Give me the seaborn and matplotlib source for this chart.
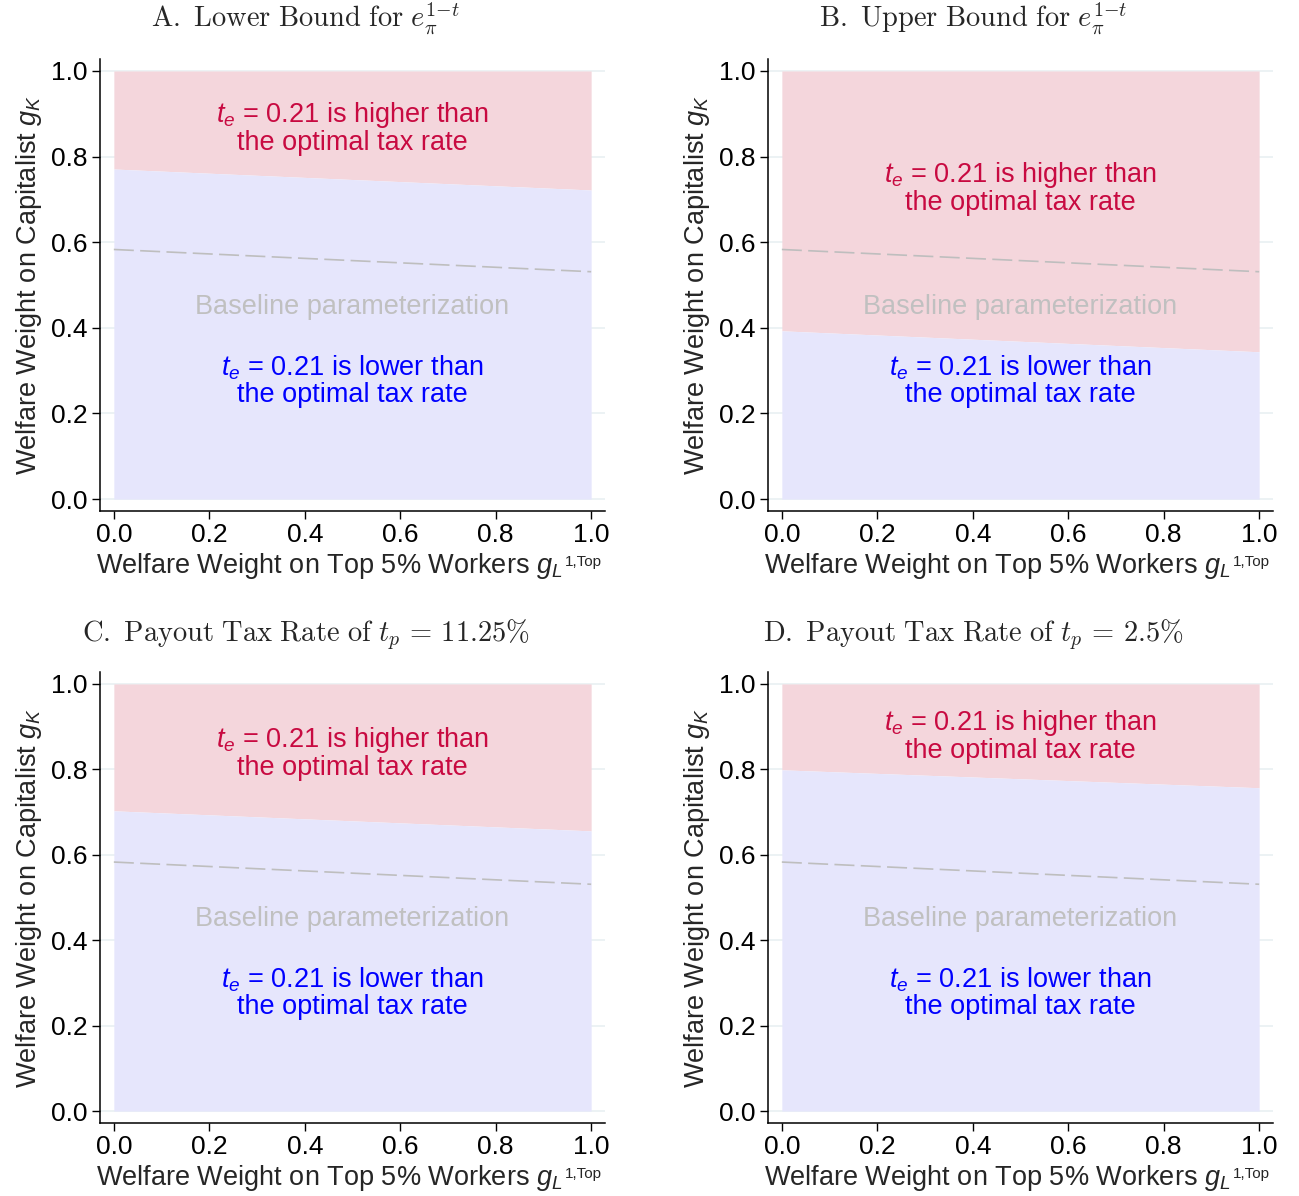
import matplotlib
matplotlib.use("Agg")
import matplotlib.pyplot as plt
import seaborn as sns
import numpy as np
import pandas as pd

# ---------------- data ----------------
x_pts = [0.0, 1.0]
bound_A = [0.771, 0.722]
bound_B = [0.393, 0.344]
bound_C = [0.703, 0.656]
bound_D = [0.799, 0.757]
baseline = [0.583, 0.531]

titles = [
    r"$\mathrm{A.\ Lower\ Bound\ for\ }e_{\pi}^{1{-}t}$",
    r"$\mathrm{B.\ Upper\ Bound\ for\ }e_{\pi}^{1{-}t}$",
    r"$\mathrm{C.\ Payout\ Tax\ Rate\ of\ }t_p\,=\,11.25\%$",
    r"$\mathrm{D.\ Payout\ Tax\ Rate\ of\ }t_p\,=\,2.5\%$",
]
bounds = [bound_A, bound_B, bound_C, bound_D]
ticks = [0.0, 0.2, 0.4, 0.6, 0.8, 1.0]
tick_labels = ["0.0", "0.2", "0.4", "0.6", "0.8", "1.0"]

txt_high = "$t_e$ = 0.21 is higher than\nthe optimal tax rate"
txt_low = "$t_e$ = 0.21 is lower than\nthe optimal tax rate"
txt_base = "Baseline parameterization"
xlabel_main = r"Welfare Weight on Top 5% Workers $g_L$"
xlabel_sup = "1,Top"
ylabel = r"Welfare Weight on Capitalist $g_K$"

# ---------------- style ----------------
sns.set_theme(style="white")
plt.rcParams["font.family"] = ["Liberation Sans", "DejaVu Sans"]
plt.rcParams["mathtext.fontset"] = "custom"
plt.rcParams["mathtext.rm"] = "Liberation Sans"
plt.rcParams["mathtext.it"] = "Liberation Sans:italic"
plt.rcParams["mathtext.bf"] = "Liberation Sans:bold"

RED_FILL = "#F4D6DC"
BLUE_FILL = "#E6E6FC"
RED_TXT = "#C80A41"
BLUE_TXT = "#0000FF"
GRAY_TXT = "#C0C0C0"
DASH = "#BEBEBE"
GRID = "#EAF1F3"

W, H = 1299, 1196
fig = plt.figure(figsize=(W / 100, H / 100), dpi=100)

# panel pixel boxes: left, right, top, bottom
boxes = [(100, 605, 59, 511), (768, 1273, 59, 511),
         (100, 605, 672, 1123), (768, 1273, 672, 1123)]
title_pos = [(306, 28), (973, 28), (306, 641), (973, 641)]
red_y = [0.867, 0.727, 0.838, 0.878]

FS = 19.5


def px(xp, yp):
    return xp / W, 1 - yp / H


for i in range(4):
    l, r, t, b = boxes[i]
    ax = fig.add_axes([l / W, 1 - b / H, (r - l) / W, (b - t) / H])
    bnd = bounds[i]
    ax.fill_between(x_pts, bnd, [1.0, 1.0], color=RED_FILL, lw=0, zorder=1)
    ax.fill_between(x_pts, [0.0, 0.0], bnd, color=BLUE_FILL, lw=0, zorder=1)
    df = pd.DataFrame({"x": x_pts, "y": baseline})
    sns.lineplot(data=df, x="x", y="y", ax=ax, color=DASH, lw=1.2,
                 linestyle=(0, (12, 3.8)), zorder=3)
    for yv in ticks:
        ax.axhline(yv, color=GRID, lw=1.3, zorder=0)
    ax.set_xlim(-0.029, 1.029)
    ax.set_ylim(-0.028, 1.028)
    ax.set_xticks(ticks)
    ax.set_xticklabels(tick_labels)
    ax.set_yticks(ticks)
    ax.set_yticklabels(tick_labels)
    ax.tick_params(axis="both", which="both", direction="out", length=6,
                   width=1.0, labelsize=19, pad=3, color="black",
                   labelcolor="black", left=True, bottom=True)
    for s in ["top", "right"]:
        ax.spines[s].set_visible(False)
    for s in ["left", "bottom"]:
        ax.spines[s].set_color("black")
        ax.spines[s].set_linewidth(1.1)
    ax.set_xlabel("")
    ax.set_ylabel("")
    ax.text(0.5, red_y[i], txt_high, color=RED_TXT, fontsize=FS,
            ha="center", va="center", multialignment="center",
            linespacing=1.0, zorder=4)
    ax.text(0.5, 0.449, txt_base, color=GRAY_TXT, fontsize=FS,
            ha="center", va="center", zorder=4)
    ax.text(0.5, 0.276, txt_low, color=BLUE_TXT, fontsize=FS,
            ha="center", va="center", multialignment="center",
            linespacing=1.0, zorder=4)
    # x label: main part + small raised superscript
    fig.text(*px(l + 462, b + 62), xlabel_main, fontsize=FS,
             ha="right", va="baseline")
    fig.text(*px(l + 465, b + 55), xlabel_sup, fontsize=11,
             ha="left", va="baseline")
    # y label
    ax.text((36 - 100) / (r - l), 0.5, ylabel, transform=ax.transAxes,
            fontsize=FS, ha="center", va="baseline", rotation=90,
            rotation_mode="anchor")
    tx, ty = title_pos[i]
    fig.text(*px(tx, ty), titles[i], fontsize=20.5, ha="center",
             va="baseline", math_fontfamily="cm")

fig.savefig("out.png", dpi=100)
